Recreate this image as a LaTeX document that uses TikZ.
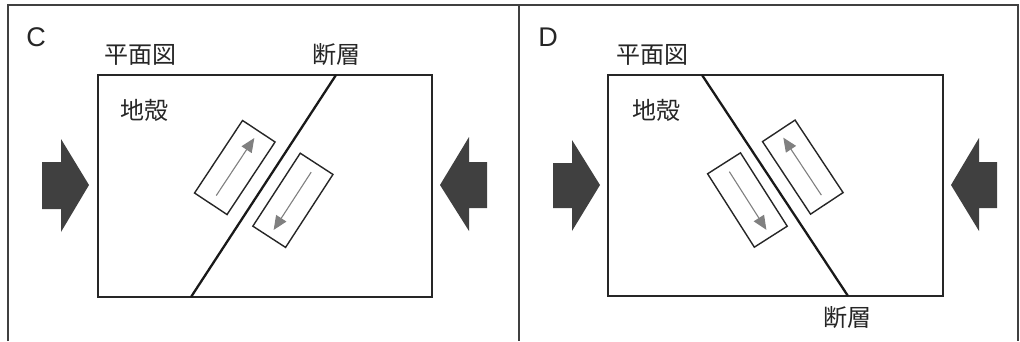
\documentclass[tikz,border=0pt]{standalone}
\usepackage{fontspec}
\setmainfont{Liberation Sans}
\newfontfamily\jp{Noto Sans CJK JP}
\usetikzlibrary{arrows.meta,calc}
\begin{document}
\begin{tikzpicture}[x=1pt,y=-1pt,
  frameline/.style={draw=black!75,line width=1.3pt},
  plan/.style={draw=black!85,line width=1.5pt},
  faultline/.style={draw=black!90,line width=2.3pt},
  slab/.style={draw=black!85,line width=1.4pt,rectangle,inner sep=0pt,minimum width=87pt,minimum height=39pt},
  motion/.style={draw=black!50,line width=1.1pt,-{Triangle[length=14pt,width=12pt]}},
  push/.style={fill=black!75,draw=none},
  jlabel/.style={font=\jp\fontsize{24pt}{26pt}\selectfont,text=black!85,inner sep=0pt},
  letter/.style={font=\fontsize{27pt}{29pt}\selectfont,text=black!85,inner sep=0pt}]
\useasboundingbox (0,0) rectangle (1020,341);
\fill[white] (0,0) rectangle (1020,341);
% outer frame
\coordinate (tl) at (8,5);
\coordinate (tm) at (519,5);
\coordinate (tr) at (1018,5);
\coordinate (bl) at (8,341);
\coordinate (bm) at (519,341);
\coordinate (br) at (1018,341);
\draw[frameline] (bl) -- (tl) -- (tr) -- (br);
\draw[frameline] (tm) -- (bm);

% ---------- Panel C ----------
\node[letter] (lC) at (36,37) {C};
\node[jlabel] (pC) at (140,55) {平面図};
\node[jlabel] (dC) at (336,55) {断層};
\node[jlabel] (cC) at (144,110) {地殻};
\draw[plan] (98,75) rectangle (432,297);
\coordinate (fC1) at (336,75);
\coordinate (fC2) at (191,297);
\draw[faultline] (fC1) -- (fC2);
\node[slab,rotate=56.5] (sC1) at (234.8,167.5) {};
\node[slab,rotate=57] (sC2) at (292.9,200.3) {};
\draw[motion] ($(sC1.west)!0.12!(sC1.east)$) -- ($(sC1.west)!0.9!(sC1.east)$);
\draw[motion] ($(sC2.east)!0.12!(sC2.west)$) -- ($(sC2.east)!0.9!(sC2.west)$);
% push arrows
\fill[push] (42,162) -- (61,162) -- (61,139) -- (89,185) -- (61,232) -- (61,209) -- (42,209) -- cycle;
\fill[push] (487,162) -- (469,162) -- (469,137) -- (440,185) -- (469,231) -- (469,208) -- (487,208) -- cycle;

% ---------- Panel D ----------
\node[letter] (lD) at (548,37) {D};
\node[jlabel] (pD) at (652,55) {平面図};
\node[jlabel] (cD) at (656,110) {地殻};
\node[jlabel] (dD) at (847,318) {断層};
\draw[plan] (608,75) rectangle (943,296);
\coordinate (fD1) at (702,75);
\coordinate (fD2) at (848,296);
\draw[faultline] (fD1) -- (fD2);
\node[slab,rotate=-57.5] (sD1) at (747.4,200) {};
\node[slab,rotate=-56.5] (sD2) at (802.8,167.1) {};
\draw[motion] ($(sD1.west)!0.12!(sD1.east)$) -- ($(sD1.west)!0.9!(sD1.east)$);
\draw[motion] ($(sD2.east)!0.12!(sD2.west)$) -- ($(sD2.east)!0.9!(sD2.west)$);
% push arrows
\fill[push] (553,163) -- (572,163) -- (572,140) -- (600,185) -- (572,231) -- (572,208) -- (553,208) -- cycle;
\fill[push] (997,162) -- (979,162) -- (979,138) -- (951,185) -- (979,231) -- (979,208) -- (997,208) -- cycle;
\end{tikzpicture}
\end{document}
